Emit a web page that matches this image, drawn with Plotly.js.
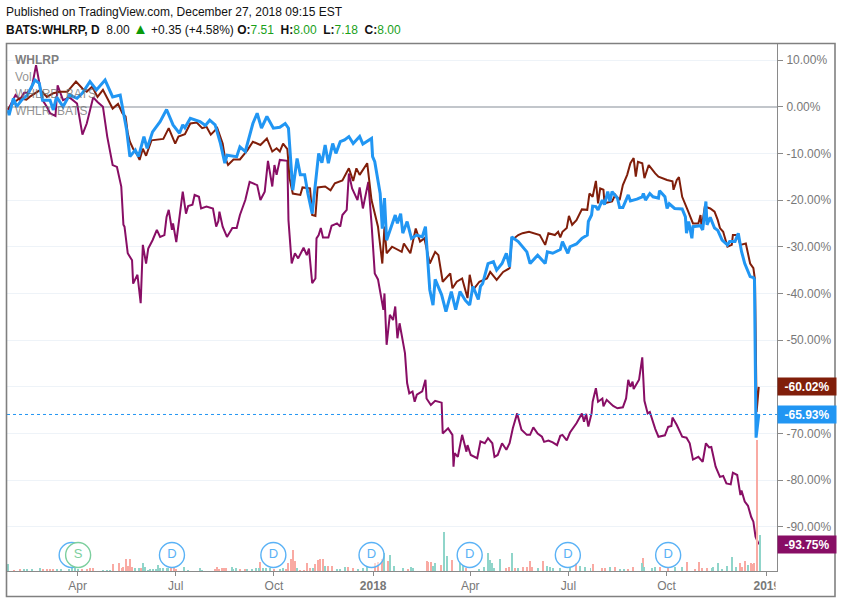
<!DOCTYPE html>
<html>
<head>
<meta charset="utf-8">
<script src="https://cdn.plot.ly/plotly-3.0.1.min.js"></script>
<style>html,body{margin:0;padding:0;background:#fff}#chart{width:842px;height:603px}</style>
</head>
<body>
<div id="chart"></div>
<script>
// Time values are days counted from the first bar of the chart
const firstBar = Date.UTC(2017, 0, 28, 12);

const purpleDays = [0,4,7,11,15,18,22,26,29,32,36,39,44,46,51,57,64,69,73,79,83,88,92,95,97,101,105,107,108,111,115,116,120,123,125,128,130,134,138,141,145,147,149,152,153,156,159,162,165,167,171,173,177,179,184,190,193,195,196,199,203,208,212,215,220,224,231,234,238,241,245,247,249,252,259,260,263,266,269,274,277,279,282,285,286,288,290,292,297,300,305,308,310,314,316,319,324,326,329,334,337,340,343,348,349,351,354,357,359,361,363,366,368,370,372,375,377,379,384,387,388,392,396,402,403,408,412,413,414,417,421,425,426,429,435,438,442,445,449,451,454,458,462,465,468,472,476,481,484,487,491,495,497,501,505,509,512,514,518,521,527,532,534,536,538,541,542,545,547,551,552,555,561,565,570,573,575,577,579,580,583,585,588,590,593,595,600,603,609,612,615,616,620,625,629,632,635,640,644,647,650,652,656,660,663,666,670,672,676,679,680,683,686,689,691,693,696];
const purpleChange = [-0.7,1,2.5,1.5,3,3,4,8.9,5,1.4,0,-1.4,-2,4.6,1.4,2,0.7,-6,-3.6,2,1,0,-6.4,-10,-12.5,-12.9,-17.1,-25.3,-25.7,-31.4,-32.9,-37.9,-36,-42.1,-29.6,-33.6,-30.4,-28.6,-26.4,-27.9,-27.5,-23.6,-22.1,-26.4,-25,-29,-24,-18.2,-22.9,-21.3,-21,-18.9,-19.3,-21.8,-21.4,-21.8,-25.7,-24.5,-22.5,-25.7,-27.9,-26,-26,-23.2,-20,-16.1,-16.8,-20,-18.2,-11.6,-17.1,-12.5,-14.6,-11.4,-11.6,-24.3,-33.6,-31.4,-32.5,-30.2,-31.8,-30.4,-37.8,-36.8,-28.2,-27.5,-26,-28,-28,-25.5,-25,-25.7,-23.2,-22.1,-14.3,-17.5,-20,-17.3,-21.8,-16.1,-25,-35.7,-37,-43.5,-40,-51,-44.6,-45.7,-42.8,-49.6,-46.4,-50,-52.8,-59.2,-61.4,-61,-63.2,-61.7,-61,-58.5,-62.5,-63.9,-63,-63.4,-70,-68.9,-70.3,-77.1,-74.2,-75,-70.3,-73.9,-72.5,-74.6,-75.3,-71.7,-72.1,-71,-72.1,-75,-74.6,-72.1,-73.5,-72.1,-68.9,-65.7,-69.2,-70.3,-70.3,-68.7,-70,-70.7,-71.8,-71.5,-71.9,-72.5,-70.5,-70.3,-71.5,-69.8,-67.8,-65.7,-67.5,-65.8,-68.5,-65.7,-63.2,-60.3,-63.2,-62.5,-64.2,-62.8,-64.1,-64.6,-64.4,-62.5,-58.5,-60,-58.9,-60.5,-59.2,-58.5,-53.7,-63,-65.7,-65.4,-69,-70.7,-70.4,-68.6,-68.4,-66.6,-68.2,-70.7,-70.9,-72.1,-75.6,-75,-76.1,-72.1,-73,-72.9,-77.1,-79.3,-79.1,-80.7,-80.9,-78.4,-78.9,-83.2,-82.2,-84.6,-85.5,-87.9,-88.9,-92.1,-93.75];

const brownDays = [0,6,11,17,20,26,30,36,42,48,55,59,63,69,73,78,83,88,93,97,102,106,109,111,113,116,120,122,125,128,133,139,144,149,155,158,164,169,175,180,184,188,194,199,201,204,209,215,222,227,234,240,245,249,252,255,259,261,264,271,273,280,282,285,287,294,299,303,310,316,320,323,326,333,337,343,347,349,351,356,365,367,373,378,382,386,391,396,399,403,410,412,416,421,426,428,431,437,444,447,453,459,465,467,473,477,483,493,498,501,507,510,512,514,518,520,523,527,532,537,539,542,545,547,549,552,553,560,563,567,570,574,577,580,582,584,588,590,594,600,603,611,616,617,620,622,625,630,635,640,642,643,646,651,655,658,660,663,667,671,672,676,679,684,688,691,692.5,694,696];
const brownChange = [-0.5,1,1.8,1.5,2.1,3,3.6,2.1,2.9,3.2,3.2,4.3,5.4,3.9,3.2,4.3,2.1,3.6,1.4,-0.4,0.6,-1.4,-2.1,-5.7,-7.5,-9,-10.4,-11.4,-9,-10.5,-7.2,-7.1,-6.9,-4.6,-7.9,-6.4,-5.9,-3.6,-3.4,-4.6,-4.3,-6,-4.6,-7.9,-10.7,-12.5,-11.3,-11.3,-9.3,-7.5,-8.2,-6.8,-9.6,-8.9,-9.6,-7.9,-9.1,-15.3,-18.6,-18.9,-17.3,-17.5,-23.2,-23.4,-17.3,-17.1,-17.9,-16.4,-15.8,-13.2,-15.9,-13.2,-14.6,-12.1,-20,-25.7,-33.6,-25.7,-31.4,-30,-31.1,-29.3,-31.4,-26.1,-28.9,-28.2,-33.6,-31.1,-31.8,-37.5,-35.7,-38.9,-37.5,-36.8,-41,-36,-39.3,-37.5,-36.8,-35.4,-37.1,-35.4,-34.6,-28.6,-27.5,-27.1,-26.8,-27.5,-29.6,-27.1,-27.5,-26.8,-28,-26.8,-26,-23.4,-25.3,-24.3,-22,-22.1,-18.6,-19.3,-15.9,-20.7,-17.5,-17.8,-20.7,-20.3,-18.9,-20,-16.8,-14.6,-12.1,-11,-15,-11.8,-12.1,-15.3,-12.5,-14.3,-15,-15.7,-16,-17.8,-15.7,-15.1,-19.3,-22.1,-25,-25,-23.2,-26,-21.4,-21.8,-22.5,-24.3,-26,-26.8,-30,-29.6,-27.5,-27.5,-29.6,-29.3,-33.6,-34.6,-37.1,-65.4,-60.02];

const blueDays = [0,1,5,8,13,18,25,29,32,39,42,45,51,57,64,69,76,82,90,97,104,107,110,113,118,121,126,129,134,141,147,153,159,162,164,169,178,183,187,192,197,201,203,212,215,220,224,227,231,235,240,246,252,257,260,261,264,268,271,275,278,282,286,288,291,294,297,301,304,308,312,316,320,326,329,337,338,340,345,347,349,351,359,361,364,366,370,374,379,384,387,389,391,394,396,402,406,411,415,419,424,428,431,436,438,440,445,450,453,458,462,465,467,473,481,484,491,498,500,505,512,514,519,521,527,532,537,538,541,542,545,547,551,553,556,558,560,565,567,570,575,577,583,588,589,591,595,598,603,604,609,611,613,618,625,628,629,631,634,635,642,644,647,648,651,655,658,662,667,669,674,677,680,683,688,691,692,693.5,696];
const blueChange = [-0.7,-1.8,1.8,0,1.5,2.5,5.7,5,1.4,1.4,-0.7,2.1,0,2.5,1.8,2.9,5.4,3.6,5.7,2.1,2.5,-1.4,-5,-10.7,-9.3,-10.7,-6.4,-8.9,-5.4,-3.2,-0.6,-3.9,-5.7,-3.9,-4.5,-2.5,-3.2,-4,-2.9,-3.9,-7.9,-12.1,-10.4,-10.7,-8.6,-9.6,-6.4,-3.6,-1.4,-4.6,-2.1,-4.6,-4.4,-3.6,-4.6,-7.9,-17.9,-11.1,-14.6,-14.6,-18.6,-22.9,-13.6,-10,-12,-8.2,-12.1,-7.9,-10,-7.5,-7.1,-6.4,-7.9,-6.4,-8,-6.8,-10.7,-11.8,-18.6,-26.1,-19.6,-28.6,-23.2,-25,-22.9,-27.1,-24.6,-28.2,-27.5,-27.9,-25.7,-32.9,-39.2,-42.5,-37,-40.3,-43.9,-39.6,-43.5,-39.6,-41.5,-42.5,-38.5,-41.3,-38.5,-37.9,-33.6,-33.2,-35,-33.6,-31.4,-34.3,-27.9,-28.9,-31.1,-33.6,-31.8,-33.6,-31.1,-31.4,-30.6,-28.9,-31.4,-30,-29.4,-28.2,-27.5,-24.6,-23.2,-21.3,-21.4,-22.1,-20,-21,-18.2,-20.3,-18.2,-19.6,-21.6,-21.6,-18.9,-20.2,-19.8,-19.3,-18.6,-20,-18.6,-19.3,-19.6,-18,-19.3,-21.8,-20.8,-21.8,-21.9,-23.6,-27.1,-24.6,-28.2,-25.7,-25.5,-26.4,-20.3,-25.3,-23.7,-26,-26.5,-28.6,-29.6,-28.9,-28.9,-27.1,-31,-33.6,-36.4,-36.6,-37,-70.9,-65.93];

const volUpDays = [0,15,18,22,30,45,49,57,59,62,65,88,92,95,118,121,125,127,130,132,134,137,139,141,144,147,148,163,167,178,180,208,209,211,222,226,230,233,236,239,243,252,255,268,283,294,305,308,312,324,329,333,349,354,358,366,374,375,394,396,404,407,419,422,437,441,445,447,449,451,456,467,473,491,500,502,505,512,521,530,535,540,558,567,571,588,590,597,600,618,625,653,654,658,662,667,671,675,686,697];
const volUpValues = [7,2,2,2,3,2,2,2,3,3,2,1,1,1,3,3,8,4,1,2,2,2,6,3,3,3,3,4,1,3,1,4,2,3,2,2,3,3,3,3,3,2,3,3,3,5,2,2,4,2,3,4,18,16,5,3,4,3,5,8,39,15,8,6,2,4,18,11,8,3,12,18,3,3,5,4,3,3,4,5,4,3,4,2,2,8,4,3,4,4,4,3,4,8,2,5,14,4,6,36];
const volDownDays = [6,11,32,36,39,42,69,73,76,79,97,103,106,107,109,111,113,115,123,151,154,156,192,194,196,198,200,202,215,220,234,247,258,260,262,264,266,271,274,277,280,285,287,289,292,297,300,315,320,340,343,347,352,371,388,389,392,401,412,425,462,464,470,477,481,484,486,496,527,542,551,553,563,575,579,589,604,612,629,637,641,643,648,679,680,683,689,691,692,694];
const volDownValues = [1,2,2,2,2,2,2,2,3,3,7,8,3,4,12,5,12,4,3,3,3,2,2,4,2,3,3,3,2,2,9,2,2,8,12,21,10,1,1,8,3,7,11,12,12,5,5,4,3,8,9,12,10,2,10,9,9,6,11,3,3,4,3,4,4,10,4,10,8,7,3,3,4,2,4,13,4,3,9,2,9,3,3,8,4,10,8,7,8,131];

const coveredDividendDays = [59];
const dividendDays = [152,246,337,428,519,612];
const splitDays = [65];

const pctTicks = [10,0,-10,-20,-30,-40,-50,-60,-70,-80,-90];
// the -60% label sits behind the last-value tag in the reference, so it is left blank
const pctLabels = ['10.00%','0.00%','-10.00%','-20.00%','-30.00%','-40.00%','-50.00%','','-70.00%','-80.00%','-90.00%'];
const timeTicks = ['2017-04-03','2017-07-03','2017-10-02','2018-01-02','2018-04-02','2018-07-02','2018-10-01','2019-01-02'];
const timeLabels = ['Apr','Jul','Oct','<b>2018</b>','Apr','Jul','Oct','<b>2019</b>'];

const lastBlue = -65.93, lastBrown = -60.02, lastPurple = -93.75;

const BLUE = '#2196f3', BROWN = '#801e0a', PURPLE = '#880e65';
const RED_VOL = '#f9aaa3', TEAL_VOL = '#90d5ca';
const FONT = '"Liberation Sans", Arial, sans-serif';

const toDate = d => new Date(firstBar + d * 86400000).toISOString();
const dates = a => a.map(toDate);

// plot box: x 7..777, y 44..571 in the 842x603 window
const W = 770, H = 527;
const px = x => (x - 7) / W;
const py = y => (571 - y) / H;

const line = (days, vals, color, width) => ({
  type: 'scatter', mode: 'lines', x: dates(days), y: vals,
  line: {color, width, shape: 'linear'}, hoverinfo: 'skip', cliponaxis: true
});
const bars = (days, vals, color) => ({
  type: 'bar', x: dates(days), y: vals, yaxis: 'y2',
  width: 1.6e8, marker: {color, line: {width: 0}}, hoverinfo: 'skip'
});
const events = (days, letter, color, fill) => ({
  type: 'scatter', mode: letter ? 'markers+text' : 'markers', x: dates(days), y: days.map(() => 16), yaxis: 'y2',
  text: days.map(() => letter), textposition: 'middle center',
  textfont: {family: FONT, size: 13, color},
  marker: {size: 25, color: fill, line: {color, width: 1.4}},
  hoverinfo: 'skip'
});

const data = [
  bars(volDownDays, volDownValues, RED_VOL),
  bars(volUpDays, volUpValues, TEAL_VOL),
  events(coveredDividendDays, '', '#5ab2f6', 'rgba(255,255,255,0.55)'),
  events(dividendDays, 'D', '#5ab2f6', 'rgba(255,255,255,0.55)'),
  events(splitDays, 'S', '#7ccf9e', '#fff'),
  line(purpleDays, purpleChange, PURPLE, 2),
  line(brownDays, brownChange, BROWN, 2),
  line(blueDays, blueChange, BLUE, 3)
];

const tag = (value, color) => ({
  xref: 'paper', yref: 'y', x: 1, y: value, xanchor: 'left', yanchor: 'middle',
  width: 58, height: 17, bgcolor: color, borderpad: 0, showarrow: false, align: 'center',
  text: '<b>' + value.toFixed(2) + '%</b>',
  font: {family: FONT, size: 12, color: '#fff'}
});
const legendText = (text, y, alpha) => ({
  xref: 'paper', yref: 'paper', x: px(13), y: py(y), xanchor: 'left', yanchor: 'middle',
  showarrow: false, text, font: {family: FONT, size: 12, color: 'rgba(110,110,110,' + alpha + ')'}
});
const headerText = (text, y) => ({
  xref: 'paper', yref: 'paper', x: px(4), y: py(y), xanchor: 'left', yanchor: 'middle',
  showarrow: false, align: 'left', text, font: {family: FONT, size: 12, color: '#111'}
});
const G = s => '<span style="color:#19a019">' + s + '</span>';
const GAP = '\u00a0';

const layout = {
  width: 842, height: 603,
  margin: {l: 7, r: 65, t: 44, b: 32, pad: 0},
  paper_bgcolor: '#fff', plot_bgcolor: '#fff',
  showlegend: false, barmode: 'overlay', bargap: 0,
  font: {family: FONT, size: 12, color: '#787878'},
  xaxis: {
    type: 'date', range: [toDate(-0.93), toDate(712.9)],
    tickmode: 'array', tickvals: timeTicks, ticktext: timeLabels, tickangle: 0,
    ticks: 'outside', ticklen: 4, tickwidth: 1, tickcolor: '#8a8a8a',
    tickfont: {family: FONT, size: 12, color: '#787878'},
    showgrid: false, zeroline: false, showline: true, linecolor: '#8a8a8a', linewidth: 1
  },
  yaxis: {
    side: 'right', range: [-99.46, 13.43],
    tickmode: 'array', tickvals: pctTicks, ticktext: pctLabels,
    ticks: 'outside', ticklen: 5, tickwidth: 1, tickcolor: '#8a8a8a', ticklabelstandoff: 1,
    tickfont: {family: FONT, size: 12, color: '#787878'},
    showgrid: true, gridcolor: '#eef3f8', gridwidth: 1,
    zeroline: true, zerolinecolor: '#c2c6cb', zerolinewidth: 2,
    showline: true, linecolor: '#8a8a8a', linewidth: 1
  },
  yaxis2: {overlaying: 'y', side: 'left', range: [0, 527], visible: false, fixedrange: true},
  shapes: [
    {type: 'line', xref: 'paper', yref: 'y', x0: 0, x1: 1, y0: lastBlue, y1: lastBlue, layer: 'above',
     line: {color: BLUE, width: 1, dash: 'dot'}},
    // hides the cut-off end of the last time label
    {type: 'rect', xref: 'paper', yref: 'paper', x0: px(775.5), x1: px(795), y0: py(595), y1: py(573), layer: 'above',
     fillcolor: '#fff', line: {width: 0}},
    // outer frame
    {type: 'rect', xref: 'paper', yref: 'paper', x0: px(6.5), x1: px(835), y0: py(596.5), y1: py(43.5), layer: 'above',
     line: {color: '#808080', width: 1.6}}
  ],
  annotations: [
    headerText('Published on TradingView.com, December 27, 2018 09:15 EST', 12),
    headerText('<b>BATS:WHLRP, D</b> ' + GAP + '8.00 ' + '<span style="color:#0a9a0a;font-size:15px">▲</span> +0.35 (+4.58%) <b>O:</b>' + G('7.51') + ' ' + GAP + '<b>H:</b>' + G('8.00') + ' ' + GAP + '<b>L:</b>' + G('7.18') + ' ' + GAP + '<b>C:</b>' + G('8.00'), 29),
    legendText('<b>WHLRP</b>', 60, 0.9),
    legendText('Vol', 77, 0.75),
    legendText('WHLRD, BATS', 94, 0.75),
    legendText('WHLR, BATS', 111, 0.75),
    tag(lastBrown, BROWN),
    tag(lastBlue, BLUE),
    tag(lastPurple, PURPLE)
  ]
};

Plotly.newPlot('chart', data, layout, {staticPlot: true, displayModeBar: false});
</script>
</body>
</html>
